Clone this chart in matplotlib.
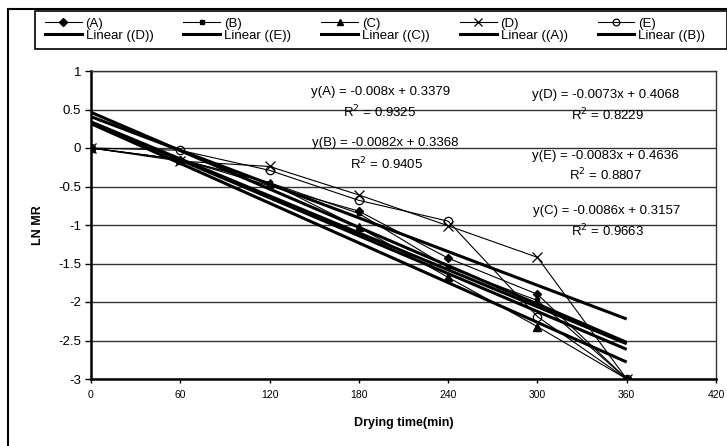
import matplotlib
matplotlib.use("Agg")
import matplotlib.pyplot as plt
from matplotlib.lines import Line2D
from matplotlib.patches import Rectangle
import numpy as np

plt.rcParams['font.family'] = ['Liberation Sans', 'DejaVu Sans']

# ---- data ----
time_min = [0, 60, 120, 180, 240, 300, 360]
series_A = [0, -0.15, -0.49, -0.82, -1.43, -1.90, -3.0]
series_B = [0, -0.15, -0.45, -0.85, -1.55, -1.98, -3.0]
series_C = [0, -0.15, -0.45, -1.03, -1.68, -2.32, -3.0]
series_D = [0, -0.17, -0.24, -0.61, -1.01, -1.42, -3.0]
series_E = [0, -0.03, -0.29, -0.68, -0.95, -2.19, -3.0]

series_names = ['A', 'B', 'C', 'D', 'E']
slopes = {'A': -0.008, 'B': -0.0082, 'C': -0.0086, 'D': -0.0073, 'E': -0.0083}
intercepts = {'A': 0.3379, 'B': 0.3368, 'C': 0.3157, 'D': 0.4068, 'E': 0.4636}
r2 = {'A': '0.9325', 'B': '0.9405', 'C': '0.9663', 'D': '0.8229', 'E': '0.8807'}
eq_text = {'A': '-0.008x + 0.3379', 'B': '-0.0082x + 0.3368', 'C': '-0.0086x + 0.3157',
           'D': '-0.0073x + 0.4068', 'E': '-0.0083x + 0.4636'}
linear_legend_labels = ['Linear ((D))', 'Linear ((E))', 'Linear ((C))', 'Linear ((A))', 'Linear ((B))']

x_ticks = [0, 60, 120, 180, 240, 300, 360, 420]
y_ticks = [1, 0.5, 0, -0.5, -1, -1.5, -2, -2.5, -3]
y_ticklabels = ['1', '0.5', '0', '-0.5', '-1', '-1.5', '-2', '-2.5', '-3']

W, H = 727, 446
fig = plt.figure(figsize=(W / 100, H / 100), dpi=100)
ax = fig.add_axes([91 / W, 1 - 379 / H, (716 - 91) / W, (379 - 71) / H])

data = {'A': series_A, 'B': series_B, 'C': series_C, 'D': series_D, 'E': series_E}
markers = {'A': dict(marker='D', ms=4.5, mfc='black', mec='black'),
           'B': dict(marker='s', ms=3.5, mfc='black', mec='black'),
           'C': dict(marker='^', ms=6, mfc='black', mec='black'),
           'D': dict(marker='x', ms=6.5, mec='black', mew=0.9),
           'E': dict(marker='o', ms=6, mfc='none', mec='black', mew=0.9)}

for s in series_names:
    ax.plot(time_min, data[s], color='black', lw=0.8, zorder=3, **markers[s])

tl = np.array([0, 360])
for s in series_names:
    ax.plot(tl, slopes[s] * tl + intercepts[s], color='black', lw=2.2, zorder=2,
            solid_capstyle='butt')

ax.set_xlim(0, 420)
ax.set_ylim(-3, 1)
ax.set_xticks(x_ticks)
ax.set_xticklabels([str(v) for v in x_ticks],
                   fontdict=dict(family=['Liberation Sans Narrow', 'Liberation Sans'], size=7.5))
ax.set_yticks(y_ticks)
ax.set_yticklabels(y_ticklabels, fontsize=9.5)
ax.tick_params(axis='y', direction='out', length=4, width=1, pad=3)
ax.tick_params(axis='x', direction='out', length=3, width=1, pad=5)
ax.grid(axis='y', color='#333333', lw=1.0, zorder=0)

ax.spines['left'].set_linewidth(1.8)
ax.spines['bottom'].set_linewidth(1.8)
ax.spines['top'].set_linewidth(1.0)
ax.spines['right'].set_linewidth(1.0)
ax.spines['top'].set_color('#333333')
ax.spines['right'].set_color('#333333')

ax.set_xlabel('Drying time(min)', fontsize=9, fontweight='bold', labelpad=12)
ax.set_ylabel('LN MR', fontsize=9, fontweight='bold', labelpad=10)

def px2data(px, py):
    return ((px - 91) / (716 - 91) * 420, 1 - (py - 71) / (379 - 71) * 4)

ann_pos = {'A': ((381, 92), (380, 112)),
           'D': ((606, 95), (607, 115)),
           'B': ((385, 143), (387, 164)),
           'E': ((605, 156), (605, 175)),
           'C': ((607, 211), (608, 231))}
for s in series_names:
    (ex, ey), (rx, ry) = ann_pos[s]
    ax.text(*px2data(ex, ey), f'y({s}) = {eq_text[s]}', ha='center', va='center',
            fontsize=9.5, zorder=5)
    ax.text(*px2data(rx, ry), f'R$^2$ = {r2[s]}', ha='center', va='center',
            fontsize=9.5, zorder=5)

# legend
handles, labels = [], []
for s, lin in zip(series_names, linear_legend_labels):
    handles.append(Line2D([], [], color='black', lw=0.8, **markers[s]))
    labels.append(f'({s})')
    handles.append(Line2D([], [], color='black', lw=2.2))
    labels.append(lin)
leg = fig.legend(handles, labels, ncol=5, loc='upper left',
                 bbox_to_anchor=(38 / W, 1 - 49 / H, 674 / W, 38 / H),
                 mode='expand', fontsize=9.5, handlelength=2.8, handletextpad=0.3,
                 labelspacing=0.0, columnspacing=1.0, borderpad=0.5, borderaxespad=0,
                 frameon=False, markerscale=0.8)
fig.add_artist(Rectangle((35 / W, 1 - 49 / H), (727 - 35) / W, 38 / H,
                         transform=fig.transFigure, fill=False, edgecolor='black',
                         lw=1.2))

# outer chart frame (left and top edges visible)
fig.add_artist(Line2D([8 / W, 8 / W], [0, 1 - 9 / H], color='black', lw=1.5,
                      transform=fig.transFigure))
fig.add_artist(Line2D([8 / W, 1], [1 - 9 / H, 1 - 9 / H], color='black', lw=1.5,
                      transform=fig.transFigure))

fig.savefig('out.png', dpi=100)
